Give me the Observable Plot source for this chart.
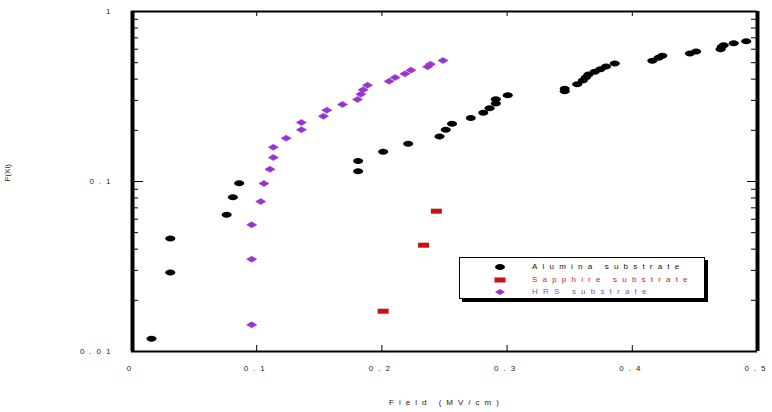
<!DOCTYPE html>
<html>
<head>
<meta charset="utf-8">
<script src="https://cdn.jsdelivr.net/npm/d3@7"></script>
<script src="https://cdn.jsdelivr.net/npm/@observablehq/plot@0.6"></script>
<style>
  body { margin: 0; background: #fff; }
  #wrap { position: relative; width: 772px; height: 412px; font-family: "Liberation Sans", Arial, sans-serif; }
  #wrap svg text { letter-spacing: 5px; }
  #legend { position: absolute; left: 459px; top: 257px; width: 244px; height: 40px; border: 1px solid #000; box-shadow: 3px 3px 0 #000; background: #fff; }
  #legend .row { position: absolute; left: 0; height: 12px; font-size: 8px; letter-spacing: 5.2px; line-height: 12px; white-space: nowrap; }
  #legend .row svg { position: absolute; left: 34px; top: 0; }
  #legend .row span { position: absolute; left: 72px; top: 0; }
</style>
</head>
<body>
<div id="wrap"></div>
<script>
// ---- data ----
const aluminaX = [0.016, 0.031, 0.031, 0.076, 0.081, 0.086, 0.181, 0.181, 0.201, 0.221, 0.246, 0.251, 0.256, 0.271, 0.281, 0.286, 0.291, 0.291, 0.3005, 0.346, 0.346, 0.356, 0.3605, 0.363, 0.365, 0.37, 0.3745, 0.379, 0.386, 0.416, 0.421, 0.424, 0.446, 0.451, 0.4705, 0.4715, 0.473, 0.481, 0.491];
const aluminaY = [0.0119, 0.0462, 0.0292, 0.0637, 0.0809, 0.0977, 0.132, 0.115, 0.1495, 0.1666, 0.184, 0.2014, 0.2185, 0.236, 0.2535, 0.270, 0.2875, 0.305, 0.322, 0.351, 0.340, 0.373, 0.393, 0.411, 0.426, 0.442, 0.458, 0.475, 0.494, 0.513, 0.534, 0.549, 0.566, 0.581, 0.600, 0.62, 0.634, 0.651, 0.669];
const sapphireX = [0.201, 0.2333, 0.2435];
const sapphireY = [0.01726, 0.0422, 0.0669];
const hrsX = [0.096, 0.096, 0.096, 0.1032, 0.1058, 0.1106, 0.1133, 0.1133, 0.1235, 0.1357, 0.1357, 0.1533, 0.156, 0.1685, 0.1805, 0.1832, 0.185, 0.1885, 0.2058, 0.2106, 0.2184, 0.2232, 0.2365, 0.2387, 0.2488];
const hrsY = [0.01436, 0.0349, 0.0556, 0.0762, 0.0974, 0.118, 0.1384, 0.159, 0.1798, 0.2014, 0.2223, 0.242, 0.2628, 0.284, 0.3036, 0.3264, 0.346, 0.3686, 0.389, 0.409, 0.4298, 0.4517, 0.4727, 0.49, 0.515];

const xDomain = [0, 0.5];
const yDomain = [0.01, 1];
const xTicks = [0, 0.1, 0.2, 0.3, 0.4, 0.5];
const xInnerTicks = [0.1, 0.2, 0.3, 0.4];
const yTicks = [0.01, 0.1, 1];
const yMajorInner = [0.1];
const yMinor = [0.02, 0.03, 0.04, 0.05, 0.06, 0.07, 0.08, 0.09, 0.2, 0.3, 0.4, 0.5, 0.6, 0.7, 0.8, 0.9];
const seriesNames = ["Alumina substrate", "Sapphire substrate", "HRS substrate"];
const xTitle = "Field (MV/cm)";
const yTitle = "F(Xi)";

const colors = { alumina: "#000000", sapphire: "#c81010", hrs: "#9933cc" };

const zip = (xs, ys) => xs.map((x, i) => ({ x, y: ys[i] }));
const alumina = zip(aluminaX, aluminaY);
const sapphire = zip(sapphireX, sapphireY);
const hrs = zip(hrsX, hrsY);

// ---- custom symbols ----
const ellipseSym = { draw(ctx) { const a = 5, b = 3, k = 0.5523;
  ctx.moveTo(a, 0);
  ctx.bezierCurveTo(a, b * k, a * k, b, 0, b);
  ctx.bezierCurveTo(-a * k, b, -a, b * k, -a, 0);
  ctx.bezierCurveTo(-a, -b * k, -a * k, -b, 0, -b);
  ctx.bezierCurveTo(a * k, -b, a, -b * k, a, 0);
  ctx.closePath(); } };
const rectSym = { draw(ctx) { ctx.rect(-5.5, -2.5, 11, 5); } };
const diamondSym = { draw(ctx) { ctx.moveTo(5, 0); ctx.lineTo(0, 3); ctx.lineTo(-5, 0); ctx.lineTo(0, -3); ctx.closePath(); } };

const fmt = d => String(d);

const W = 772, H = 412, mL = 131, mR = 15, mT = 11, mB = 61;
const fw = W - mL - mR, fh = H - mT - mB;

const plot = Plot.plot({
  width: W,
  height: H,
  marginLeft: mL,
  marginRight: mR,
  marginTop: mT,
  marginBottom: mB,
  style: { fontFamily: "'Liberation Sans', Arial, sans-serif", fontSize: "8px", color: "#222", background: "#fff", overflow: "visible" },
  x: { domain: xDomain },
  y: { type: "log", domain: yDomain },
  marks: [
    // inner ticks (drawn as tick marks inset from the frame)
    Plot.tickX(xInnerTicks, { x: d => d, insetTop: fh - 6, stroke: "#000" }),
    Plot.tickX(xInnerTicks, { x: d => d, insetBottom: fh - 5, stroke: "#000" }),
    Plot.tickY(yMinor, { y: d => d, insetRight: fw - 7, stroke: "#000" }),
    Plot.tickY(yMajorInner, { y: d => d, insetRight: fw - 12, stroke: "#000" }),
    Plot.tickY(yMinor, { y: d => d, insetLeft: fw - 6, stroke: "#000" }),
    Plot.tickY(yMajorInner, { y: d => d, insetLeft: fw - 10, stroke: "#000" }),
    // frame
    Plot.ruleY([yDomain[1]], { stroke: "#000", strokeWidth: 2 }),
    Plot.ruleY([yDomain[0]], { stroke: "#000", strokeWidth: 2 }),
    Plot.ruleX([xDomain[0]], { stroke: "#000", strokeWidth: 4, dx: 1 }),
    Plot.ruleX([xDomain[1]], { stroke: "#000", strokeWidth: 4 }),
    // tick labels
    Plot.axisX({ anchor: "bottom", ticks: xTicks, tickSize: 0, tickPadding: 14, tickFormat: fmt, label: null }),
    Plot.axisY({ anchor: "left", ticks: yTicks, tickSize: 0, tickPadding: 16, tickFormat: fmt, label: null }),
    // titles
    Plot.text([xTitle], { frameAnchor: "bottom", dy: 53, dx: 2, fill: "#222" }),
    Plot.text([yTitle], { frameAnchor: "left", dx: -124, rotate: -90, fill: "#222" }),
    // data
    Plot.dot(alumina, { x: "x", y: "y", symbol: ellipseSym, fill: colors.alumina, stroke: "none" }),
    Plot.dot(sapphire, { x: "x", y: "y", symbol: rectSym, fill: colors.sapphire, stroke: "none" }),
    Plot.dot(hrs, { x: "x", y: "y", symbol: diamondSym, fill: colors.hrs, stroke: colors.hrs, strokeWidth: 0.6 })
  ]
});

const wrap = document.getElementById("wrap");
wrap.appendChild(plot);
d3.select(plot).selectAll("text").filter(function () { return this.textContent === yTitle; }).style("letter-spacing", "0px");

// ---- legend ----
const legend = document.createElement("div");
legend.id = "legend";
const legendItems = [
  { name: seriesNames[0], text: "#111", shape: '<ellipse cx="6" cy="6" rx="5" ry="3" fill="' + colors.alumina + '"/>' },
  { name: seriesNames[1], text: "#c0282d", shape: '<rect x="0.5" y="3.5" width="11" height="5" fill="' + colors.sapphire + '"/>' },
  { name: seriesNames[2], text: "#9944cc", shape: '<path d="M11,6L6,9L1,6L6,3Z" fill="' + colors.hrs + '"/>' }
];
const rowTops = [3, 15.5, 28];
legendItems.forEach((it, i) => {
  const row = document.createElement("div");
  row.className = "row";
  row.style.top = rowTops[i] + "px";
  row.innerHTML = '<svg width="12" height="12">' + it.shape + '</svg><span style="color:' + it.text + '">' + it.name + '</span>';
  legend.appendChild(row);
});
wrap.appendChild(legend);
</script>
</body>
</html>
